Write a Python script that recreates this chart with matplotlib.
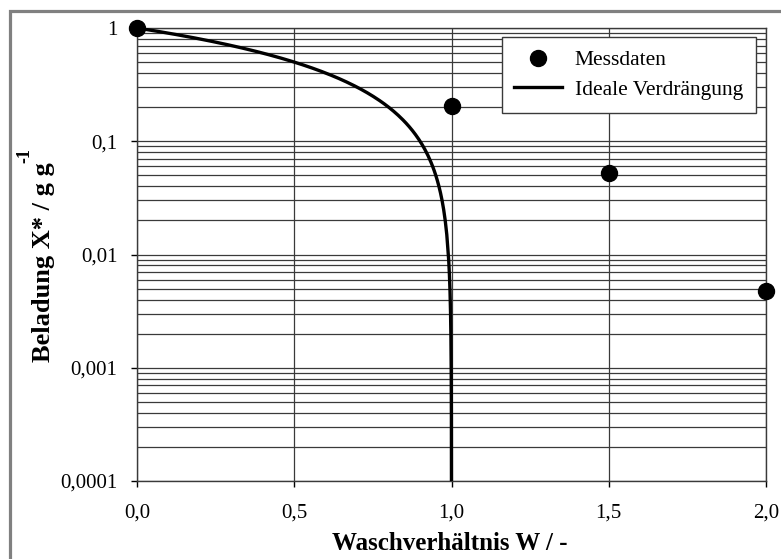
import numpy as np
import matplotlib
matplotlib.use("Agg")
from matplotlib import pyplot as plt
from matplotlib.patches import Rectangle
from matplotlib.ticker import FixedLocator, LogLocator, NullFormatter

# Messdaten
w_mess = [0.0, 1.0, 1.5, 2.0]
x_mess = [1.0, 0.205, 0.052, 0.0048]

# ideale Verdraengung: X* = 1 - W
w_ideal = np.concatenate([np.linspace(0.0, 0.99, 200), np.linspace(0.99, 1.0, 200)])
x_ideal = np.clip(1.0 - w_ideal, 1e-6, None)

x_ticks = [0.0, 0.5, 1.0, 1.5, 2.0]
x_ticklabels = ["0,0", "0,5", "1,0", "1,5", "2,0"]
y_ticks = [1e-4, 1e-3, 1e-2, 1e-1, 1]
y_ticklabels = ["0,0001", "0,001", "0,01", "0,1", "1"]

plt.rcParams['font.family'] = ['Liberation Serif', 'DejaVu Serif']

W, H = 781, 559
fig = plt.figure(figsize=(W / 100, H / 100), dpi=100)
ax = fig.add_axes([137 / W, 1 - 481 / H, (766 - 137) / W, (481 - 28) / H])

ax.set_yscale('log')
ax.set_xlim(0, 2.0)
ax.set_ylim(1e-4, 1)

ax.grid(True, which='major', color='#3a3a3a', lw=0.9)
ax.yaxis.set_minor_locator(LogLocator(base=10, subs=np.arange(2, 10)))
ax.yaxis.set_minor_formatter(NullFormatter())
ax.grid(True, which='minor', axis='y', color='#3a3a3a', lw=0.9)
ax.set_axisbelow(True)

ax.plot(w_ideal, x_ideal, color='black', lw=2.4, label='Ideale Verdrängung', zorder=3)
ax.plot(w_mess, x_mess, 'o', color='black', ms=11.5, label='Messdaten', clip_on=False, zorder=4)

ax.xaxis.set_major_locator(FixedLocator(x_ticks))
ax.set_xticklabels(x_ticklabels)
ax.yaxis.set_major_locator(FixedLocator(y_ticks))
ax.set_yticklabels(y_ticklabels)
ax.tick_params(which='major', direction='out', length=4, width=1, labelsize=15, pad=10)
ax.tick_params(axis='x', pad=12)
ax.tick_params(which='minor', length=0)
for s in ax.spines.values():
    s.set_color('#3a3a3a')
    s.set_linewidth(1)

# Achsenbeschriftungen
fig.text(450 / W, 1 - 543 / H, 'Waschverhältnis W / -', fontsize=18, fontweight='bold',
         ha='center', va='center')
fig.text(44 / W, 1 - 262 / H, 'Beladung X* / g g', fontsize=19, fontweight='bold',
         rotation=90, ha='center', va='center')
fig.text(25 / W, 1 - 163 / H, '-1', fontsize=13, fontweight='bold',
         rotation=90, ha='center', va='bottom')

h, l = ax.get_legend_handles_labels()
leg = ax.legend([h[1], h[0]], [l[1], l[0]], loc='upper right', bbox_to_anchor=(0.984, 0.980),
                borderaxespad=0, fontsize=15.5, frameon=True, fancybox=False, edgecolor='#3a3a3a',
                framealpha=1, borderpad=0.6, handlelength=2.2, handletextpad=0.6,
                labelspacing=0.45)
leg.get_frame().set_linewidth(1)

# grauer Rahmen um die Grafik
fig.patches.append(Rectangle((9.5 / W, -0.1), 1.2, 1 - 10.5 / H + 0.1, transform=fig.transFigure,
                             fill=False, edgecolor='#808080', lw=2.3))

fig.savefig('out.png', dpi=100)
